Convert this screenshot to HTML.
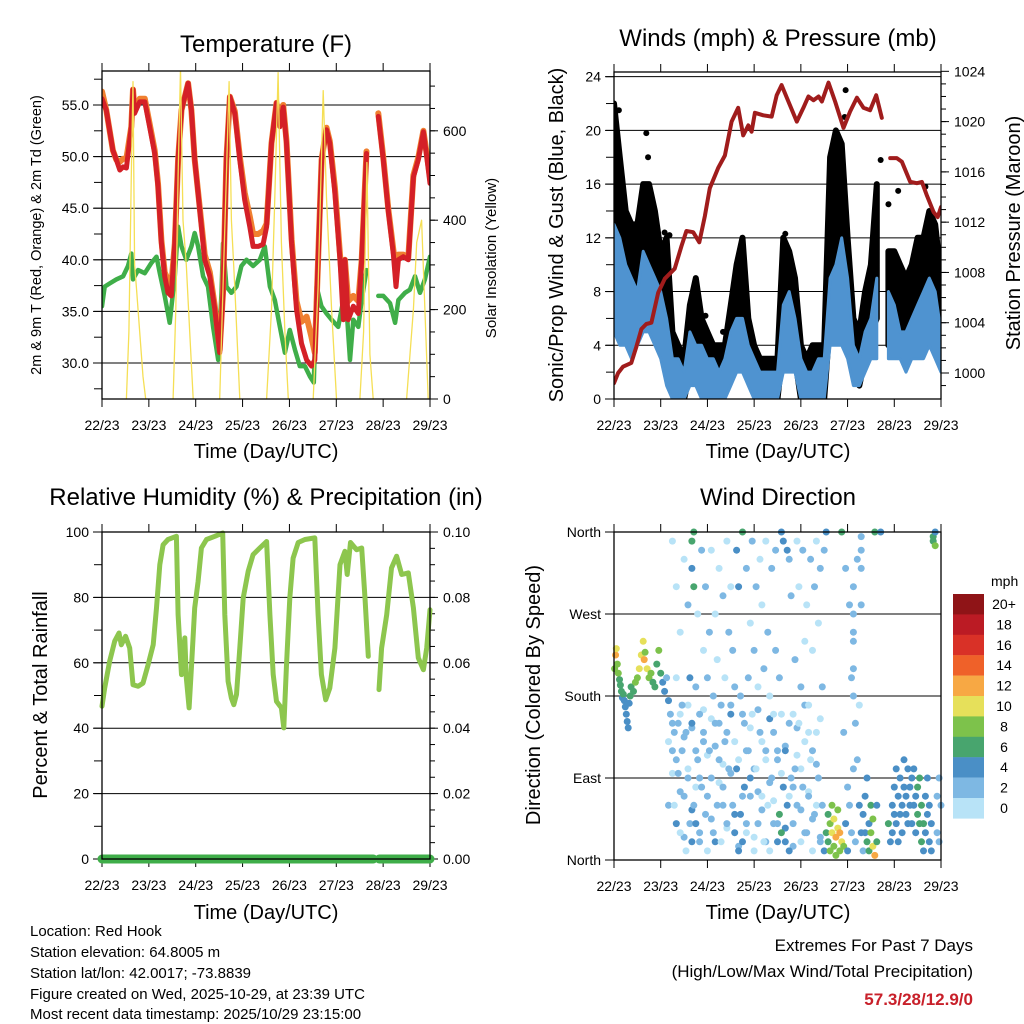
<!DOCTYPE html>
<html><head><meta charset="utf-8">
<style>
html,body{margin:0;padding:0;background:#fff;}
svg{display:block;font-family:"Liberation Sans",sans-serif;}
</style></head>
<body>
<svg id="c" width="1024" height="1024" viewBox="0 0 1024 1024">
  <defs>
    <clipPath id="clip1"><rect x="102" y="71" width="328" height="328"/></clipPath>
    <clipPath id="clip2"><rect x="614" y="72" width="327" height="327"/></clipPath>
  </defs>
  <rect x="0" y="0" width="1024" height="1024" fill="#fff"/>
  <text x="266" y="52" font-size="24" text-anchor="middle">Temperature (F)</text>
  <text x="778" y="46" font-size="24" text-anchor="middle">Winds (mph) &amp; Pressure (mb)</text>
  <text x="266" y="505" font-size="24" text-anchor="middle">Relative Humidity (%) &amp; Precipitation (in)</text>
  <text x="778" y="505" font-size="24" text-anchor="middle">Wind Direction</text>

  <text x="266" y="458" font-size="20" text-anchor="middle">Time (Day/UTC)</text>
  <text x="778" y="458" font-size="20" text-anchor="middle">Time (Day/UTC)</text>
  <text x="266" y="919" font-size="20" text-anchor="middle">Time (Day/UTC)</text>
  <text x="778" y="919" font-size="20" text-anchor="middle">Time (Day/UTC)</text>

  <text transform="translate(41,235) rotate(-90)" font-size="14.5" text-anchor="middle">2m &amp; 9m T (Red, Orange) &amp; 2m Td (Green)</text>
  <text transform="translate(496,258) rotate(-90)" font-size="15" text-anchor="middle">Solar Insolation (Yellow)</text>
  <text transform="translate(563,235) rotate(-90)" font-size="20" text-anchor="middle">Sonic/Prop Wind &amp; Gust (Blue, Black)</text>
  <text transform="translate(1020,233) rotate(-90)" font-size="20" text-anchor="middle">Station Pressure (Maroon)</text>
  <text transform="translate(47,695) rotate(-90)" font-size="20" text-anchor="middle">Percent &amp; Total Rainfall</text>
  <text transform="translate(540,695) rotate(-90)" font-size="20" text-anchor="middle">Direction (Colored By Speed)</text>

  <g font-size="15">
    <text x="30" y="936">Location: Red Hook</text>
    <text x="30" y="957">Station elevation: 64.8005 m</text>
    <text x="30" y="978">Station lat/lon: 42.0017; -73.8839</text>
    <text x="30" y="999">Figure created on Wed, 2025-10-29, at 23:39 UTC</text>
    <text x="30" y="1019">Most recent data timestamp: 2025/10/29 23:15:00</text>
  </g>
  <text x="973" y="951" font-size="17" text-anchor="end">Extremes For Past 7 Days</text>
  <text x="973" y="977" font-size="17" text-anchor="end">(High/Low/Max Wind/Total Precipitation)</text>
  <text x="973" y="1005" font-size="17" font-weight="bold" fill="#c8202a" text-anchor="end">57.3/28/12.9/0</text>
</svg>
<script>
// ---------- DATA ----------
const dayTicks = [0,24,48,72,96,120,144,168];
const dayLabels = ["22/23","23/23","24/23","25/23","26/23","27/23","28/23","29/23"];

const tempTicks = [30,35,40,45,50,55];
const tempTickLabels = ["30.0","35.0","40.0","45.0","50.0","55.0"];
const solarTicks = [0,200,400,600];
const windTicks = [0,4,8,12,16,20,24];
const presTicks = [1000,1004,1008,1012,1016,1020,1024];
const rhTicks = [0,20,40,60,80,100];
const precTicks = [0,0.02,0.04,0.06,0.08,0.10];
const precTickLabels = ["0.00","0.02","0.04","0.06","0.08","0.10"];
const dirTicks = [0,90,180,270,360];
const dirTickLabels = ["North","East","South","West","North"];
const speedLabels = ["20+","18","16","14","12","10","8","6","4","2","0"];

const tTime = [0,2.2,5.6,7.3,9.1,10.8,12.5,15,15.9,16.7,19.3,21.9,24.4,27,28.7,30.4,32.1,33.8,35.5,37.3,39,40.7,42.4,44.1,45.8,47.5,50.1,52.6,55.2,57.8,60.3,62,63.7,65.5,68,70.6,73.1,75.7,77.4,80,82.5,84.3,86.8,89.4,91.1,92.8,94.5,97.1,99.6,102.2,104.8,107.3,109,110.7,112.5,115,116.7,119.3,121.9,123.6,124.4,126.1,128.7,131.3,133,135.5,138.5,141.5,144.1,146.6,149.2,150.6,151.8,154.3,156.9,159.5,162,164.6,166.3,168];
const tRed = [55.6,54.5,50.6,49.7,48.7,49,48.9,52.9,56.5,54.2,55.3,55.3,52.9,50.3,47.1,41.6,38.4,36.8,36.5,41.6,49.7,54.5,55.8,57.1,54.5,49.7,44.8,40,38.4,35.2,31,36.8,49.7,55.8,54.2,49.7,45.8,43.2,41.3,41.3,41.5,43.2,51.3,55.2,52.9,54.8,51.3,41.6,35.2,31.9,30.3,29.7,30.3,40,49.7,52.6,51.3,46.5,40,34.2,40,34.2,35.5,34.8,40,50.3,null,53.9,49.7,44.8,40.6,37.4,40,40.3,40,48,49.7,52.4,50,47.4];
const tOrange = [56.3,54.5,50.6,49.7,49.5,49.8,49.8,52.9,56.5,54.5,55.6,55.6,53.2,50.6,47.4,41.9,38.8,38,37.5,41.6,49.7,54.5,55.8,57.1,54.5,49.7,45,40.5,38.8,35.5,31.3,36.8,49.7,55.8,54.4,50,46.5,44.2,42.5,42.5,42.8,43.5,51.3,55.2,53.1,55,51.5,42,36,34,34.5,32.5,31,40,49.7,52.8,51.5,47,40.5,36.5,40,36,36.5,36,40,50.5,null,54.2,49.9,45,41,39,40.5,40.5,40.2,48.2,49.9,52.5,50.3,48];
const tdTime = [0,1.4,3.9,7.3,10.8,13.3,15,15.9,18.5,21.9,25.3,27.9,29.6,32.1,34.7,37.3,39,40.7,43.2,45.8,47.5,49.2,51.8,54.3,56.9,59.5,61.2,62,63.7,66.3,68.9,71.4,74,77.4,80.8,83.4,86,88.5,91.1,93.7,96.2,98.8,101.3,103.9,106.5,108.5,109.9,112.4,115,117.6,121,123.6,125.3,127,128.7,131.3,133,135.5,138.5,141.5,144.1,147.5,150.1,151.8,155.2,157.7,160.3,162.9,165.4,168];
const tdVals = [35.5,37.4,37.7,38.1,38.4,39.4,40.6,38.1,39,38.7,39.7,40.3,38.7,36.5,33.9,38.4,43.2,41.3,40,41.3,42.6,41.3,38.4,37.4,33.5,30.3,36.8,41.6,37.4,36.8,37.4,39.4,40,39.4,40,41.3,37.4,36.1,33.5,31,33.2,31.3,29.7,29.7,28.7,28.1,37.4,35.5,34.8,34.2,33.5,36.1,35.2,30.3,34.2,33.5,36.1,39,null,36.5,36.5,35.8,33.9,36.1,36.8,37.1,38.4,36.8,38.1,40.3];
const solT = [12.5,13.8,15,15.9,16.7,17.6,19.3,21,22.4,null,36.4,37.8,39,40.2,41.5,43.2,44.9,46.7,null,60.3,62,63.7,65.1,66.3,68,70.6,null,84.3,86.8,88.5,90.2,91.9,93.7,95.4,null,108.2,110.7,112.5,113.3,115,117.6,120.1,null,132.1,134,135.7,137.2,138.9,null,156,159.5,161.2,163.7,165.4,167.1];
const solV = [0,150,500,710,300,250,150,50,0,null,0,200,500,740,400,300,150,0,null,0,250,500,710,400,250,0,null,0,200,450,730,350,150,0,null,0,250,550,690,450,200,0,null,0,150,529,100,0,null,0,200,350,400,200,0];

const presT = [0,2.1,4.6,8.9,11.5,14.1,16.6,19.2,22.7,26.1,31.2,34.7,37.2,40.7,43.8,46.7,49.2,53.5,57,60.4,63.8,66.4,69,70.7,72.4,76.7,81,83.6,86.1,89.6,93.9,97.3,99.9,102.5,105.1,106.8,110.2,113.6,117.9,121.3,124.8,128.2,131.6,134.7,137.6,null,141.9,145.3,147.9,152.2,155.6,158.2,160.8,164.2,166.3,168];
const presV = [999.2,1000,1000.5,1000.8,1002.1,1003.5,1003.9,1004,1006.4,1007.5,1008.3,1010.1,1011.3,1011.2,1010.4,1012.5,1014.7,1016.3,1017.3,1020,1021.1,1018.9,1019.7,1019.2,1020.7,1020.5,1020.4,1022.1,1022.9,1021.6,1020,1021.1,1022,1021.7,1022,1021.6,1023.1,1021.6,1019.5,1020.8,1021.9,1021.1,1020.9,1022.1,1020.3,null,1017.1,1017.1,1016.8,1015.2,1015.1,1015.2,1014.1,1012.8,1012.4,1013.2];
const windT = [0,3,6,9,12,15,18,21,24,27,30,33,36,39,42,45,48,51,54,57,60,63,66,69,72,75,78,81,84,87,90,93,96,99,102,105,108,111,114,117,120,123,126,129,132,135,138,141,144,147,150,153,156,159,162,165,168];
const sustLo = [5,4,4,3,4,5,5,4,3,1,0,0,0,1,1,0,0,0,0,0,1,2,2,1,0,0,0,0,0,2,2,2,0,0,0,0,0,4,4,4,3,1,1,2,3,3,null,3,3,3,2,3,3,3,4,3,2];
const sustHi = [13,12,10,9,8,11,10,9,8,6,3,3,2,5,4,4,3,3,2,3,5,6,6,4,3,2,2,2,2,7,8,6,3,2,2,3,3,9,10,12,9,4,3,5,6,9,null,8,7,5,5,6,7,8,9,8,5];
const gustLo = [8,8,7,7,8,9,9,6,5,4,2,1,0,2,2,1,1,1,1,1,2,3,4,2,1,1,1,0,0,4,4,3,0,0,0,0,0,6,8,8,5,2,1,3,5,6,null,4,5,4,4,4,5,5,6,5,3];
const gustHi = [22,18,14,13,13,16,16,14,11,12,5,4,3,7,9,6,5,4,4,4,7,10,12,6,4,3,3,3,3,12,11,9,4,3,4,4,4,18,20,19,12,6,5,8,10,16,null,11,11,10,9,10,12,12,14,13,9];
const gustOutT = [1,2.5,16.6,17.5,26,119,118.5,137,141,146,160,88,47,56,28.5];
const gustOutV = [19.5,21.5,19.8,18,12.4,23,21,17.8,14.5,15.5,15.8,12.3,6.2,5,12.2];

const rhT = [0,1.4,3.9,6.5,8.7,9.9,12.1,14.2,15.9,18.5,21,23.6,26.2,27.9,29.6,31.3,33.8,38.1,39,40.7,42.4,43.2,44.6,45.8,47.5,49.2,50.9,53.5,57.8,61.8,62.9,64.6,66.3,67.5,68.9,70.6,72.3,74.9,77.4,80.8,84.3,86,87.7,89.4,91.9,93.1,94.5,96.2,97.9,100.5,103.9,109,110.7,112.4,114.6,116.7,119.3,121.9,124.4,125.6,127.3,130.4,133,134.7,136.4,138.5,141.9,143.2,145.8,148.3,150.9,153.5,156.9,159.5,162,164.6,166.3,168];
const rhV = [46.7,52.3,60.4,66.6,69.1,65.5,68.1,64.5,53.3,52.8,53.8,59.4,65.5,76.8,90,96.1,97.7,98.7,74.7,56.4,67.6,55.4,46.2,58.4,76.8,84.9,95.1,97.7,98.7,99.7,74.7,54.3,49.2,47.2,50.3,64.5,79.8,88,93.1,95.1,97.1,74.7,56.4,48.2,46.2,40.1,59.4,79.8,92,96.8,97.7,98.2,74.7,56.4,48.7,52.3,64.5,90,94.1,87,96.8,94.6,95.1,79.8,62,null,51.8,64.5,74.7,89,92.6,87,87.5,76.8,61.5,57.9,64.5,76.2];
const precT = [0,139,null,142,168];
const precV = [0,0,null,0,0];

const dirT = [
0.3,0.8,1.2,1.7,2.2,2.8,3.3,3.8,4.3,4.8,5.3,5.8,6.3,6.8,7.3,7.8,8.3,8.8,
10,11,12,13,14,15,15.5,16,17,18,19,20,21,22,23,24,25,26,27,28,29,
30,30,31,31,32,32,33,33,34,34,35,35,36,36,37,37,38,38,39,39,
40,40,40,40,41,41,41,
42,42,43,43,44,44,45,45,46,46,47,47,48,48,49,49,50,50,51,51,
52,52,53,53,54,54,55,55,56,56,57,57,58,58,59,59,60,60,61,61,
62,62,63,63,64,64,65,65,66,66,67,67,68,68,69,69,70,70,71,71,
72,72,73,73,74,74,75,75,76,76,77,77,78,78,79,79,80,80,81,81,
82,82,83,83,84,84,85,85,86,86,87,87,88,88,89,89,90,90,91,91,
92,92,93,93,94,94,95,95,96,96,97,97,98,98,99,99,100,100,101,101,
102,102,103,103,104,104,105,105,106,106,107,107,108,108,109,109,110,110,111,111,
112,112,113,113,114,114,115,115,116,116,117,117,118,118,119,119,120,120,121,121,
122,122,123,123,124,124,125,125,126,126,127,127,128,128,129,129,130,130,131,131,
132,132,133,133,134,134,135,135,
143,143,144,144,145,145,146,146,147,147,148,148,149,149,150,150,151,151,152,152,
153,153,154,154,155,155,156,156,157,157,158,158,159,159,160,160,161,161,162,162,
163,163,164,164,165,165,166,166,167,167,
137,141,142,168,123,123,123,123,123,127,127,127];
const dirD = [
210,225,232,215,205,198,192,185,178,182,175,168,160,152,145,172,180,190,
185,195,200,210,225,240,220,228,210,200,205,195,190,215,230,205,195,185,200,175,160,
350,120,60,140,300,200,95,150,30,250,120,170,330,70,10,140,280,90,200,40,
350,320,150,20,360,300,60,
40,190,110,270,20,160,340,80,230,130,300,50,10,200,250,120,340,90,180,30,
270,150,60,220,320,110,170,20,290,80,200,130,350,40,250,100,160,300,60,230,
30,190,340,100,300,10,50,180,360,20,80,150,320,40,200,120,260,70,350,160,
10,230,300,100,40,190,330,140,70,280,20,210,350,120,250,60,180,10,320,90,
160,40,340,230,20,110,50,200,30,360,80,350,20,120,60,340,10,330,90,290,
160,40,220,100,350,60,150,300,20,190,340,80,240,130,30,280,170,70,330,110,
10,230,300,50,140,350,90,260,20,320,190,60,340,10,30,360,20,50,10,40,
30,60,15,45,25,5,35,55,10,30,20,360,15,140,40,320,10,80,60,280,
30,200,100,250,150,20,110,330,60,170,30,340,50,10,70,30,90,20,40,10,
60,30,15,45,5,360,20,60,
60,30,80,50,40,100,70,20,90,50,60,30,80,110,50,70,100,40,60,80,
90,40,60,100,70,30,80,50,40,90,20,60,10,40,30,70,50,90,20,60,
40,10,355,350,345,360,30,70,90,20,
360,40,20,60,300,270,240,210,180,355,320,280];
const dirS = [
8,12,10,9,8,7,7,6,5,6,4,4,4,4,4,5,6,7,
6,8,9,10,11,10,12,9,10,8,9,7,7,6,8,6,4,4,3,4,3,
1,2,1,2,1,1,2,2,1,1,2,2,1,2,1,3,2,3,4,3,
6,4,4,4,6,6,3,
4,2,3,1,2,2,2,3,1,2,2,3,1,2,2,2,1,2,3,2,
1,2,2,1,1,2,3,1,2,2,1,3,1,2,2,2,4,1,3,2,
4,2,4,4,4,5,4,3,6,4,4,2,2,3,2,2,1,2,2,1,
1,2,2,1,2,1,1,2,1,1,1,2,1,2,2,1,1,1,2,2,
1,2,2,2,4,2,6,3,6,5,5,4,4,4,4,4,4,3,3,2,
1,3,2,2,1,2,1,1,1,2,2,2,1,1,2,1,1,2,2,1,
1,1,2,2,1,1,2,1,2,2,2,2,2,4,6,4,7,6,8,9,
10,8,9,10,12,8,10,8,9,13,10,6,8,2,4,2,4,2,2,2,
2,2,2,2,2,3,2,2,4,1,4,2,4,3,4,5,4,6,5,7,
6,8,10,8,12,6,7,4,
4,5,4,4,4,4,4,4,4,4,4,4,4,4,4,4,4,4,4,5,
4,4,4,4,4,4,6,6,7,6,7,6,5,7,4,4,4,4,4,4,
4,4,6,6,8,5,2,2,2,2,
5,6,4,2,2,2,2,2,2,2,2,2];
const dirT2 = [28,28,30,30,32,32,34,34,36,36,38,38,40,40,42,42,44,44,46,46,
48,48,50,50,52,52,54,54,56,56,58,58,60,60,62,62,64,64,66,66,
68,68,70,70,72,72,74,74,76,76,78,78,80,80,82,82,84,84,86,86,
88,88,90,90,92,92,94,94,96,96,98,98,100,100,102,102,104,104,106,106];
const dirD2 = [130,60,150,95,110,40,160,75,135,25,100,170,145,55,120,80,90,30,165,140,
70,115,155,45,125,20,85,150,60,105,140,35,170,95,50,130,110,15,160,70,
30,120,145,90,100,25,75,165,130,55,20,110,155,85,65,140,120,40,95,160,
35,125,150,70,80,15,115,145,55,100,170,30,140,75,45,120,105,60,25,155];
const dirS2 = [1,2,3,1,2,4,1,2,2,3,1,1,2,4,3,1,2,2,1,3,
2,1,1,2,3,4,1,2,2,1,3,1,2,2,4,1,1,3,2,2,
1,2,1,4,2,1,3,2,1,2,2,1,4,2,1,3,2,2,1,1,
4,2,3,1,2,2,1,3,2,1,2,2,1,1,3,2,2,1,2,1];
const speedColors = ["#8f1417","#bb1b24","#d93127","#ef6129","#f7a844","#e6e05a","#7dc24b","#48a56e","#4a8fc6","#7eb8e3","#b8e3f7"];

// ---------- RENDER ----------
const svg = document.getElementById('c');
const NS = 'http://www.w3.org/2000/svg';
function mk(tag, attrs, parent){const e=document.createElementNS(NS,tag);for(const k in attrs)e.setAttribute(k,attrs[k]);(parent||svg).appendChild(e);return e;}

const P1={x0:102,x1:430,y0:71,y1:399};
const P2={x0:614,x1:941,y0:72,y1:399};
const P3={x0:102,x1:430,y0:532,y1:859};
const P4={x0:614,x1:941,y0:532,y1:860};
function sx(P,t){return P.x0+t/168*(P.x1-P.x0);}
const tempY=T=>105+(55-T)*10.32;
const solarY=S=>399-S*0.447;
const windY=w=>399-w*13.43;
const presY=p=>373-(p-1000)*12.57;
const rhY=r=>859-r*3.27;
const precY=p=>859-p*3270;
const dirY=d=>860-d*328/360;

function pathD(P,ts,vs,fy){let d='',pen=false;for(let i=0;i<ts.length;i++){if(ts[i]===null||vs[i]===null){pen=false;continue;}d+=(pen?'L':'M')+sx(P,ts[i]).toFixed(1)+' '+fy(vs[i]).toFixed(1);pen=true;}return d;}
function bandD(P,ts,lo,hi,fy){
  let d='';let seg=[];
  const flush=()=>{if(seg.length){let s='M'+seg.map(i=>sx(P,ts[i]).toFixed(1)+' '+fy(lo[i]).toFixed(1)).join('L');
    s+='L'+seg.slice().reverse().map(i=>sx(P,ts[i]).toFixed(1)+' '+fy(hi[i]).toFixed(1)).join('L')+'Z';d+=s;}seg=[];};
  for(let i=0;i<ts.length;i++){if(lo[i]===null||hi[i]===null){flush();continue;}seg.push(i);}
  flush();return d;}

function panelBase(P,name,grid,fy){
  const g=mk('g',{});
  
  
  grid.forEach(v=>{const y=fy(v);if(y>P.y0+1&&y<P.y1-1){const l=mk('line',{x1:P.x0,x2:P.x1,y1:y,y2:y,stroke:'#000','stroke-width':1},g);
    
    }});
  dayTicks.forEach((t,i)=>{const x=sx(P,t);
    const a=mk('line',{x1:x,x2:x,y1:P.y1,y2:P.y1+8,stroke:'#000','stroke-width':1},g);
    
    
    const b=mk('line',{x1:x,x2:x,y1:P.y0,y2:P.y0-8,stroke:'#000','stroke-width':1},g);
    
    
    const tx=mk('text',{x:x,y:P.y1+31,'font-size':14,'text-anchor':'middle'},g);
    tx.textContent=dayLabels[i];
    
    });
  return g;
}
function leftTicks(P,g,vals,labels,fy,minors){
  (minors||[]).forEach(v=>{const y=fy(v);if(y>=P.y0-0.5&&y<=P.y1+0.5){const l=mk('line',{x1:P.x0-8,x2:P.x0,y1:y,y2:y,stroke:'#000','stroke-width':1},g);
    
    }});
  vals.forEach((v,i)=>{const y=fy(v);const l=mk('line',{x1:P.x0-9,x2:P.x0,y1:y,y2:y,stroke:'#000','stroke-width':1},g);
    
    
    const t=mk('text',{x:P.x0-13,y:y+5,'font-size':14,'text-anchor':'end'},g);
    t.textContent=labels[i];
    
    });
}
function rightTicks(P,g,vals,labels,fy,minors){
  (minors||[]).forEach(v=>{const y=fy(v);if(y>=P.y0-0.5&&y<=P.y1+0.5){const l=mk('line',{x1:P.x1,x2:P.x1+5,y1:y,y2:y,stroke:'#000','stroke-width':1},g);
    
    }});
  vals.forEach((v,i)=>{const y=fy(v);const l=mk('line',{x1:P.x1,x2:P.x1+8,y1:y,y2:y,stroke:'#000','stroke-width':1},g);
    
    
    const t=mk('text',{x:P.x1+13,y:y+5,'font-size':14,'text-anchor':'start'},g);
    t.textContent=labels[i];
    
    });
}
function frame(P,name){const r=mk('rect',{x:P.x0,y:P.y0,width:P.x1-P.x0,height:P.y1-P.y0,fill:'none',stroke:'#000','stroke-width':1.3});
  
  }
function line(P,ts,vs,fy,color,w,name,parent){const p=mk('path',{d:pathD(P,ts,vs,fy),fill:'none',stroke:color,'stroke-width':w,'stroke-linejoin':'round','stroke-linecap':'round'},parent);
  
  return p;}

// Panel 1: temperature
const g1=panelBase(P1,'temperature',tempTicks,tempY);
const minT=[];for(let v=27.5;v<=57.5;v+=2.5)minT.push(v);
leftTicks(P1,g1,tempTicks,tempTickLabels,tempY,minT);
const minS=[];for(let v=0;v<=700;v+=50)minS.push(v);
rightTicks(P1,g1,solarTicks,solarTicks.map(String),solarY,minS);
const c1=mk('g',{'clip-path':'url(#clip1)'});


line(P1,tdTime,tdVals,tempY,'#3fae49',4.5,'dewpoint-line',c1);
line(P1,tTime,tOrange,tempY,'#f08030',6,'temp-9m-line',c1);
line(P1,tTime,tRed,tempY,'#d42027',5,'temp-2m-line',c1);
line(P1,solT,solV,solarY,'#f5df55',1.3,'solar-line',c1);
frame(P1,'temperature');

// Panel 2: winds & pressure
const g2=panelBase(P2,'winds',[4,8,12,16,20,24],windY);
const minW=[];for(let v=0;v<=24;v+=2)minW.push(v);
leftTicks(P2,g2,windTicks,windTicks.map(String),windY,minW);
const minP=[];for(let v=999;v<=1024;v++)minP.push(v);
rightTicks(P2,g2,presTicks,presTicks.map(String),presY,minP);
const c2=mk('g',{'clip-path':'url(#clip2)'});


const gb=mk('path',{d:bandD(P2,windT,gustLo,gustHi,windY),fill:'#000',stroke:'#000','stroke-width':6,'stroke-linejoin':'round'},c2);


gustOutT.forEach((t,i)=>{const c=mk('circle',{cx:sx(P2,t),cy:windY(gustOutV[i]),r:3,fill:'#000'},c2);
  
  });
const sb=mk('path',{d:bandD(P2,windT,sustLo,sustHi,windY),fill:'#4f93d0',stroke:'#4f93d0','stroke-width':3,'stroke-linejoin':'round'},c2);


line(P2,presT,presV,presY,'#a01c1c',4,'pressure-line',c2);
frame(P2,'winds');

// Panel 3: RH & precip
const g3=panelBase(P3,'humidity',[20,40,60,80],rhY);
const minR=[];for(let v=0;v<=100;v+=10)minR.push(v);
leftTicks(P3,g3,rhTicks,rhTicks.map(String),rhY,minR);
const minPr=[];for(let v=0;v<=10;v+=0.5)minPr.push(v/100);
rightTicks(P3,g3,precTicks,precTickLabels,precY,minPr);
line(P3,rhT,rhV,rhY,'#8dc64e',5,'humidity-line');
line(P3,precT,precV,precY,'#3fae49',9,'precipitation-line');
frame(P3,'humidity');

// Panel 4: wind direction
const g4=panelBase(P4,'wind-direction',[90,180,270],dirY);
leftTicks(P4,g4,dirTicks,dirTickLabels,dirY,[]);
function dirPoints(ts,ds,ss){for(let i=0;i<ts.length;i++){const b=Math.min(10,Math.floor(ss[i]/2));
  const c=mk('circle',{cx:sx(P4,ts[i]).toFixed(1),cy:dirY(ds[i]).toFixed(1),r:3.5,fill:speedColors[10-b]});
  
  }}
dirPoints(dirT2,dirD2,dirS2);
dirPoints(dirT,dirD,dirS);
frame(P4,'wind-direction');

// Colorbar
const cb=mk('g',{});


const mt=mk('text',{x:991,y:586,'font-size':14},cb);
mt.textContent='mph';


speedColors.forEach((col,i)=>{const y=594+i*20.4;
  const r=mk('rect',{x:953,y:y,width:31,height:20.6,fill:col},cb);
  
  
  const t=mk('text',{x:1004,y:y+15,'font-size':14,'text-anchor':'middle'},cb);
  t.textContent=speedLabels[i];
  
  });
</script>
</body></html>
